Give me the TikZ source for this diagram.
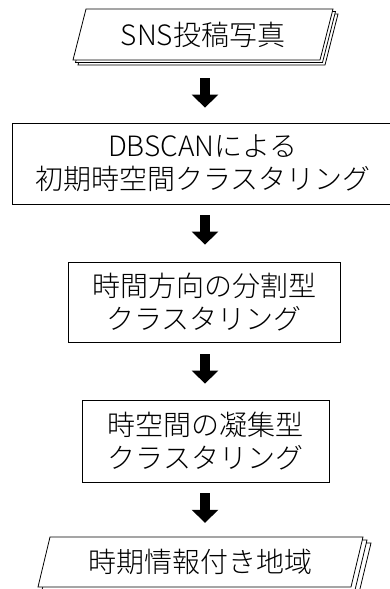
\documentclass[tikz,border=0pt]{standalone}
\usepackage{fontspec}
\IfFontExistsTF{Noto Sans CJK JP Light}{\setmainfont{Noto Sans CJK JP Light}}{\setmainfont{Noto Sans CJK JP}}
\usetikzlibrary{arrows.meta}
\tikzset{
  x=1pt, y=-1pt,
  txt/.style={font=\fontsize{28pt}{33pt}\selectfont, align=center, inner sep=0pt},
  procbox/.style={txt, draw, line width=0.8pt},
  sheet/.style={draw, line width=0.8pt, fill=white, line join=miter},
  bigarrow/.style={line width=10pt, line cap=butt, -{Triangle[width=26pt,length=13pt]}},
}
\begin{document}
\begin{tikzpicture}
\useasboundingbox (0,0) rectangle (389,589);
% top document stack
\foreach \s in {5,2.5,0}{
  \draw[sheet, shift={(\s,\s)}] (86,9) -- (333,9) -- (320,60) -- (73,60) -- cycle;
}
\node[txt, minimum width=240pt, minimum height=51pt] (s1) at (203,34.5) {SNS投稿写真};
% process boxes
\node[procbox, minimum width=382pt, minimum height=81pt] (b2) at (203,163.5) {DBSCANによる\\初期時空間クラスタリング};
\node[procbox, minimum width=272pt, minimum height=80pt] (b3) at (204,302) {時間方向の分割型\\クラスタリング};
\node[procbox, minimum width=247pt, minimum height=82pt] (b4) at (205.5,441) {時空間の凝集型\\クラスタリング};
% bottom document stack
\foreach \s in {8,4,0}{
  \draw[sheet, shift={(\s,0.75*\s)}] (50,537) -- (363,537) -- (351,587) -- (38,587) -- cycle;
}
\node[txt, minimum width=300pt, minimum height=50pt] (s5) at (200.5,562) {時期情報付き地域};
% arrows
\coordinate (ax) at (205,0);
\draw[bigarrow] ([yshift=-18pt]s1.south -| ax) -- ([yshift=15pt]b2.north -| ax);
\draw[bigarrow] ([yshift=-11pt]b2.south -| ax) -- ([yshift=17pt]b3.north -| ax);
\draw[bigarrow] ([yshift=-12pt]b3.south -| ax) -- ([yshift=16pt]b4.north -| ax);
\draw[bigarrow] ([yshift=-11pt]b4.south -| ax) -- ([yshift=14pt]s5.north -| ax);
\end{tikzpicture}
\end{document}
